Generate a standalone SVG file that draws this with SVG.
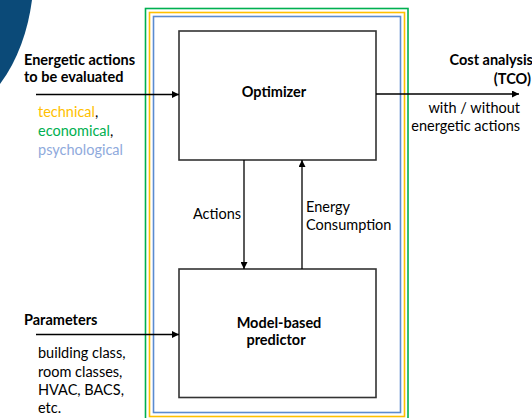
<svg xmlns="http://www.w3.org/2000/svg" width="532" height="418" viewBox="0 0 532 418">
  <defs>
    <marker id="ah" viewBox="0 0 10 10" refX="10" refY="5" markerWidth="8" markerHeight="7" markerUnits="userSpaceOnUse" orient="auto">
      <path d="M0,0 L10,5 L0,10 Z" fill="#000"/>
    </marker>
    <style>
      text { font-family: Lato, "Open Sans", "Liberation Sans", sans-serif; font-size: 14.5px; fill: #000; }
      .b { font-weight: bold; }
      .tech { fill: #ffc000; }
      .eco { fill: #00b050; }
      .psy { fill: #8faadc; }
      .box { fill: #fff; stroke: #333; stroke-width: 1.6; }
      .conn { stroke: #000; stroke-width: 1.3; fill: none; marker-end: url(#ah); }
      .fr { fill: none; stroke-width: 1.6; }
    </style>
  </defs>
  <rect width="532" height="418" fill="#fff"/>
  <path d="M0,0 L32,0 C28,30 18,60 0,84 Z" fill="#0b4a78"/>

  <g id="frames">
    <rect class="fr" x="145.5" y="8.5" width="262.5" height="420" stroke="#00b050"/>
    <rect class="fr" x="149.5" y="12.5" width="255" height="404" stroke="#ffc000"/>
    <rect class="fr" x="153.5" y="16.5" width="247" height="396" stroke="#5b8bd0"/>
  </g>

  <g id="optimizer">
    <rect class="box" x="179" y="31" width="197" height="129"/>
    <text class="b" x="274" y="97" text-anchor="middle">Optimizer</text>
  </g>
  <g id="predictor">
    <rect class="box" x="179" y="269" width="197" height="128.5"/>
    <text class="b" x="279" y="328" text-anchor="middle">Model-based</text>
    <text class="b" x="276" y="345" text-anchor="middle">predictor</text>
  </g>

  <g id="connectors">
    <line class="conn" x1="36" y1="94.5" x2="179" y2="94.5"/>
    <line class="conn" x1="36" y1="334.5" x2="179" y2="334.5"/>
    <line class="conn" x1="376" y1="94" x2="519" y2="94"/>
    <line class="conn" x1="244" y1="160" x2="244" y2="269"/>
    <line class="conn" x1="302" y1="269" x2="302" y2="160"/>
  </g>

  <g id="labels">
    <text class="b" x="24" y="65">Energetic actions</text>
    <text class="b" x="24" y="82">to be evaluated</text>
    <text x="38" y="117"><tspan class="tech">technical</tspan>,</text>
    <text x="38" y="136"><tspan class="eco">economical</tspan>,</text>
    <text class="psy" x="38" y="155">psychological</text>

    <text class="b" x="24" y="325">Parameters</text>
    <text x="38" y="358">building class,</text>
    <text x="38" y="377">room classes,</text>
    <text x="38" y="395">HVAC, BACS,</text>
    <text x="38" y="413">etc.</text>

    <text class="b" x="533" y="65" text-anchor="end">Cost analysis</text>
    <text class="b" x="531" y="84" text-anchor="end">(TCO)</text>
    <text x="520" y="113" text-anchor="end">with / without</text>
    <text x="520" y="131" text-anchor="end">energetic actions</text>

    <text x="193" y="219">Actions</text>
    <text x="306" y="212">Energy</text>
    <text x="306" y="230">Consumption</text>
  </g>
</svg>
